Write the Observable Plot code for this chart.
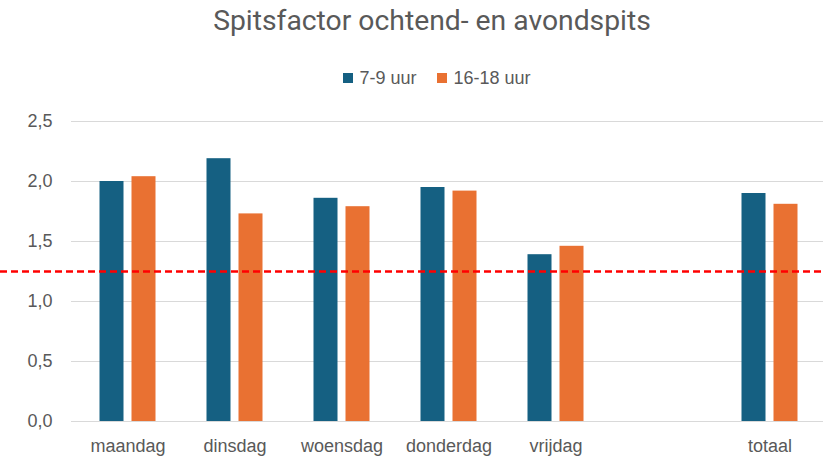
<!DOCTYPE html>
<html>
<head>
<meta charset="utf-8">
<script src="https://cdn.jsdelivr.net/npm/d3@7"></script>
<script src="https://cdn.jsdelivr.net/npm/@observablehq/plot@0.6"></script>
<style>
  html, body { margin: 0; padding: 0; background: #fff; }
  body { width: 826px; height: 457px; position: relative; overflow: hidden; font-family: "Liberation Sans", Arial, sans-serif; color: #595959; }
  #title { position: absolute; left: 0; top: 3px; width: 826px; text-align: center; font-family: Roboto, sans-serif; font-size: 28.3px; color: #595959; line-height: 36px; padding-left: 38px; box-sizing: border-box; }
  #legend { position: absolute; left: 0; top: 66px; width: 826px; display: flex; justify-content: center; gap: 21px; font-size: 18px; line-height: 24px; padding-left: 48px; box-sizing: border-box; }
  .item { display: flex; align-items: center; gap: 6px; }
  .sw { width: 10px; height: 10px; display: inline-block; }
  #chart { position: absolute; left: 0; top: 100px; }
</style>
</head>
<body>
<div id="title"></div>
<div id="legend"></div>
<div id="chart"></div>
<script>
const titleText = "Spitsfactor ochtend- en avondspits";
const categories = ["maandag", "dinsdag", "woensdag", "donderdag", "vrijdag", " ", "totaal"];
const series = ["7-9 uur", "16-18 uur"];
const ochtend = [2.00, 2.19, 1.86, 1.95, 1.39, null, 1.90];
const avond = [2.04, 1.73, 1.79, 1.92, 1.46, null, 1.81];
const threshold = [1.25];
const yTicks = [0, 0.5, 1.0, 1.5, 2.0, 2.5];
const colors = ["#156082", "#E97132"];

document.getElementById("title").textContent = titleText;
const legend = document.getElementById("legend");
series.forEach((s, i) => {
  const item = document.createElement("span");
  item.className = "item";
  const sw = document.createElement("span");
  sw.className = "sw";
  sw.style.background = colors[i];
  const t = document.createElement("span");
  t.textContent = s;
  item.appendChild(sw);
  item.appendChild(t);
  legend.appendChild(item);
});

const rowsA = categories.map((c, i) => ({day: c, series: series[0], value: ochtend[i]})).filter(d => d.value != null);
const rowsB = categories.map((c, i) => ({day: c, series: series[1], value: avond[i]})).filter(d => d.value != null);

const fmt = d => d.toFixed(1).replace(".", ",");

const chart = Plot.plot({
  width: 826,
  height: 357,
  marginTop: 21,
  marginBottom: 36,
  marginLeft: 71,
  marginRight: 0,
  style: { fontSize: "18px", fontFamily: "'Liberation Sans', Arial, sans-serif", color: "#595959", background: "transparent" },
  x: { domain: categories, padding: 0, label: null, tickSize: 0, tickPadding: 18 },
  y: { domain: [0, 2.5], ticks: yTicks, tickFormat: fmt, label: null, tickSize: 0, tickPadding: 19 },
  color: { domain: series, range: colors },
  marks: [
    Plot.ruleY(yTicks, { stroke: "#D9D9D9", strokeWidth: 1.2, insetRight: 3 }),
    Plot.barY(rowsA, { x: "day", y: "value", fill: "series", insetLeft: 25.5, insetRight: 57.5 }),
    Plot.barY(rowsB, { x: "day", y: "value", fill: "series", insetLeft: 57.5, insetRight: 25.5 }),
    Plot.ruleY(threshold, { stroke: "#FF0000", strokeWidth: 2.5, strokeDasharray: "7,4", insetLeft: -71, insetRight: 3 })
  ]
});
document.getElementById("chart").appendChild(chart);
</script>
</body>
</html>
